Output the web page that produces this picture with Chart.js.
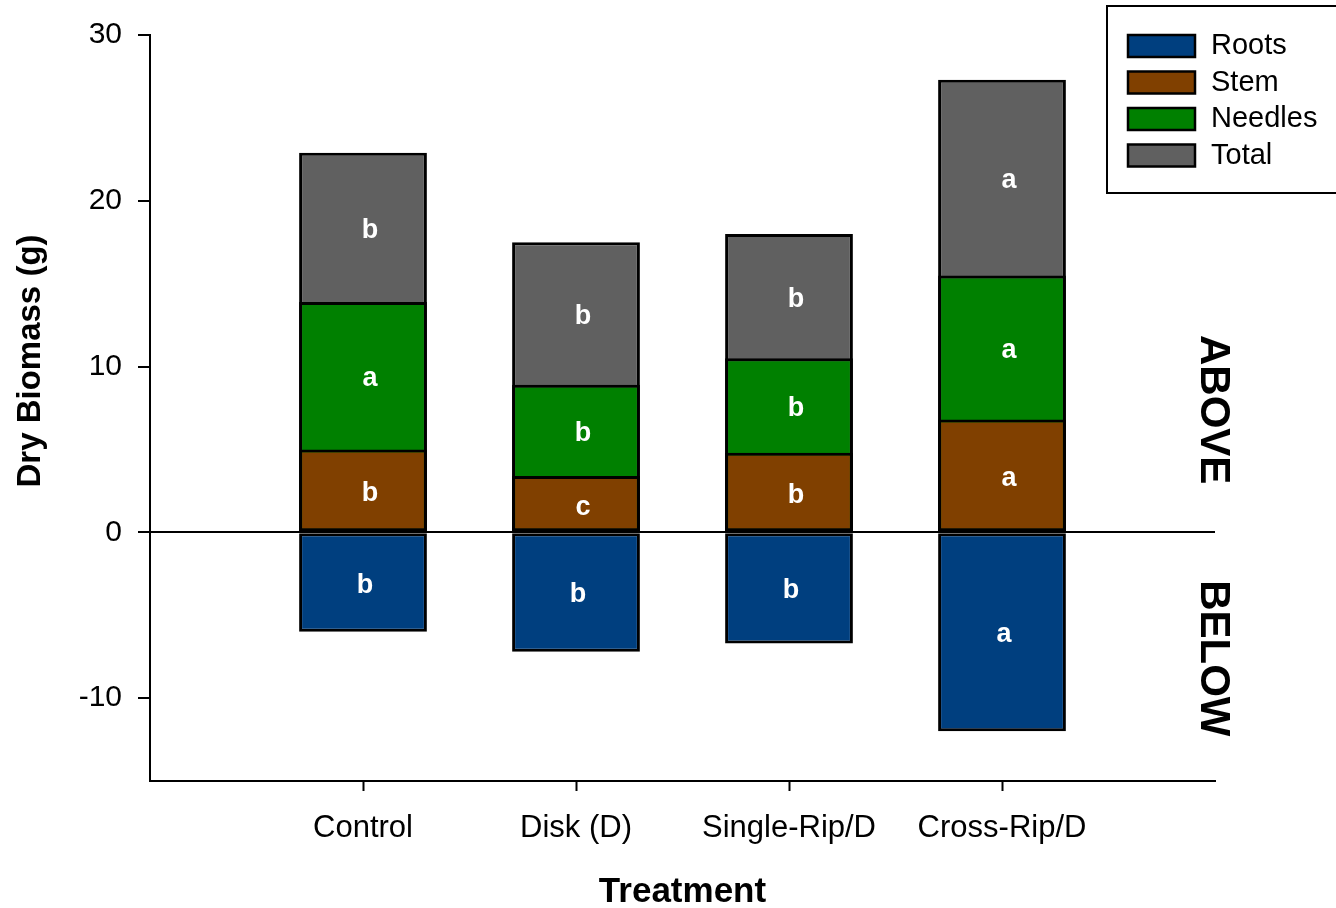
<!DOCTYPE html>
<html>
<head>
<meta charset="utf-8">
<script src="https://cdn.jsdelivr.net/npm/chart.js@4.4.1/dist/chart.umd.min.js"></script>
<style>
  html, body { margin: 0; padding: 0; background: #ffffff; }
  #wrap { width: 1336px; height: 908px; position: relative; }
</style>
</head>
<body>
<div id="wrap"><canvas id="chart" width="1336" height="908"></canvas></div>
<script>
// Treatments along the x axis
const categories = ['Control', 'Disk (D)', 'Single-Rip/D', 'Cross-Rip/D'];

// Dry biomass (g); above-ground series are heights from zero, roots are below ground
const roots   = [-6.0, -7.2, -6.7, -12.0];
const stem    = [5.0, 3.4, 4.8, 6.8];
const needles = [13.9, 8.9, 10.5, 15.5];
const total   = [22.9, 17.5, 18.0, 27.3];

// Significance letters for each component
const rootsLetters   = ['b', 'b', 'b', 'a'];
const stemLetters    = ['b', 'c', 'b', 'a'];
const needlesLetters = ['a', 'b', 'b', 'a'];
const totalLetters   = ['b', 'b', 'b', 'a'];

const yTickValues = [-10, 0, 10, 20, 30];

const seriesNames  = ['Roots', 'Stem', 'Needles', 'Total'];
const seriesColors = ['#003f7f', '#804000', '#008000', '#606060'];

const FONT = '"Liberation Sans", Arial, Helvetica, sans-serif';
const xPos = categories.map((_, i) => i + 1);

function points(values) {
  return values.map((v, i) => ({ x: xPos[i], y: v }));
}

const seriesValues  = [roots, stem, needles, total];
const seriesLetters = [rootsLetters, stemLetters, needlesLetters, totalLetters];

const datasets = seriesNames.map((name, k) => ({
  label: name,
  data: points(seriesValues[k]),
  backgroundColor: seriesColors[k],
  borderColor: '#000000',
  borderWidth: 3,
  borderSkipped: false,
  inflateAmount: 0,
  barPercentage: 0.6,
  categoryPercentage: 1.0,
  grouped: false
}));

// Letters, axis titles, side labels and the legend box
const annotate = {
  id: 'annotate',
  afterDatasetsDraw(chart) {
    const ctx = chart.ctx;
    const y = chart.scales.y;
    ctx.save();
    ctx.fillStyle = '#ffffff';
    ctx.font = 'bold 27px ' + FONT;
    ctx.textAlign = 'center';
    ctx.textBaseline = 'middle';
    // visible segment of each overlapping bar: from the next lower series up to its own value
    const lowerOf = [null, null, stem, needles];
    seriesNames.forEach((name, k) => {
      const meta = chart.getDatasetMeta(k);
      meta.data.forEach((bar, i) => {
        const top = seriesValues[k][i];
        const low = k < 2 ? 0 : lowerOf[k][i];
        const cy = (y.getPixelForValue(top) + y.getPixelForValue(low)) / 2;
        const dx = k === 0 ? 2 : 7;
        ctx.fillText(seriesLetters[k][i], bar.x + dx, cy + 3);
      });
    });
    ctx.restore();
  },
  afterDraw(chart) {
    const ctx = chart.ctx;
    const y = chart.scales.y;
    const area = chart.chartArea;
    ctx.save();
    ctx.fillStyle = '#000000';
    ctx.textAlign = 'center';
    ctx.textBaseline = 'middle';

    // y-axis title
    ctx.save();
    ctx.translate(31, 361);
    ctx.rotate(-Math.PI / 2);
    ctx.font = 'bold 33px ' + FONT;
    ctx.fillText('Dry Biomass (g)', 0, 0);
    ctx.restore();

    // x-axis title
    ctx.font = 'bold 35px ' + FONT;
    ctx.fillText('Treatment', (area.left + area.right) / 2, 892);

    // ABOVE / BELOW side labels
    ctx.font = 'bold 42px ' + FONT;
    [['ABOVE', 7.4], ['BELOW', -7.6]].forEach(([txt, v]) => {
      ctx.save();
      ctx.translate(area.right - 2, y.getPixelForValue(v));
      ctx.rotate(Math.PI / 2);
      ctx.fillText(txt, 0, 0);
      ctx.restore();
    });

    // legend
    ctx.lineWidth = 2;
    ctx.strokeStyle = '#000000';
    ctx.strokeRect(1107, 6, 240, 187);
    ctx.font = '29px ' + FONT;
    ctx.textAlign = 'left';
    const rowY = [46, 82.5, 119, 155.5];
    ctx.lineWidth = 2.5;
    seriesNames.forEach((name, k) => {
      ctx.fillStyle = seriesColors[k];
      ctx.fillRect(1128, rowY[k] - 11, 67, 22);
      ctx.strokeRect(1128, rowY[k] - 11, 67, 22);
      ctx.fillStyle = '#000000';
      ctx.fillText(name, 1211, rowY[k]);
    });
    ctx.restore();
  }
};

new Chart(document.getElementById('chart'), {
  type: 'bar',
  data: { datasets },
  plugins: [annotate],
  options: {
    responsive: false,
    devicePixelRatio: 1,
    animation: false,
    layout: { padding: { top: 35, right: 121, bottom: 0, left: 0 } },
    plugins: { legend: { display: false }, tooltip: { enabled: false } },
    scales: {
      x: {
        type: 'linear',
        min: 0,
        max: categories.length + 1,
        offset: false,
        afterBuildTicks: s => { s.ticks = xPos.map(v => ({ value: v })); },
        afterFit: s => { s.height = 127; },
        ticks: {
          autoSkip: false,
          maxRotation: 0,
          padding: 19,
          color: '#000000',
          font: { family: FONT, size: 31 },
          callback: v => categories[v - 1] || ''
        },
        grid: {
          offset: false,
          drawOnChartArea: false,
          drawTicks: true,
          tickLength: 10,
          tickColor: '#000000',
          tickWidth: 2
        },
        border: { display: true, color: '#000000', width: 2 }
      },
      y: {
        min: -15,
        max: 30,
        afterBuildTicks: s => { s.ticks = yTickValues.map(v => ({ value: v })); },
        afterFit: s => { s.width = 150; },
        ticks: {
          padding: 16,
          color: '#000000',
          font: { family: FONT, size: 30 }
        },
        grid: {
          drawOnChartArea: true,
          color: c => (c.tick && c.tick.value === 0) ? '#000000' : 'rgba(0,0,0,0)',
          lineWidth: 2,
          drawTicks: true,
          tickLength: 12,
          tickColor: '#000000',
          tickWidth: 2
        },
        border: { display: true, color: '#000000', width: 2 }
      }
    }
  }
});
</script>
</body>
</html>
